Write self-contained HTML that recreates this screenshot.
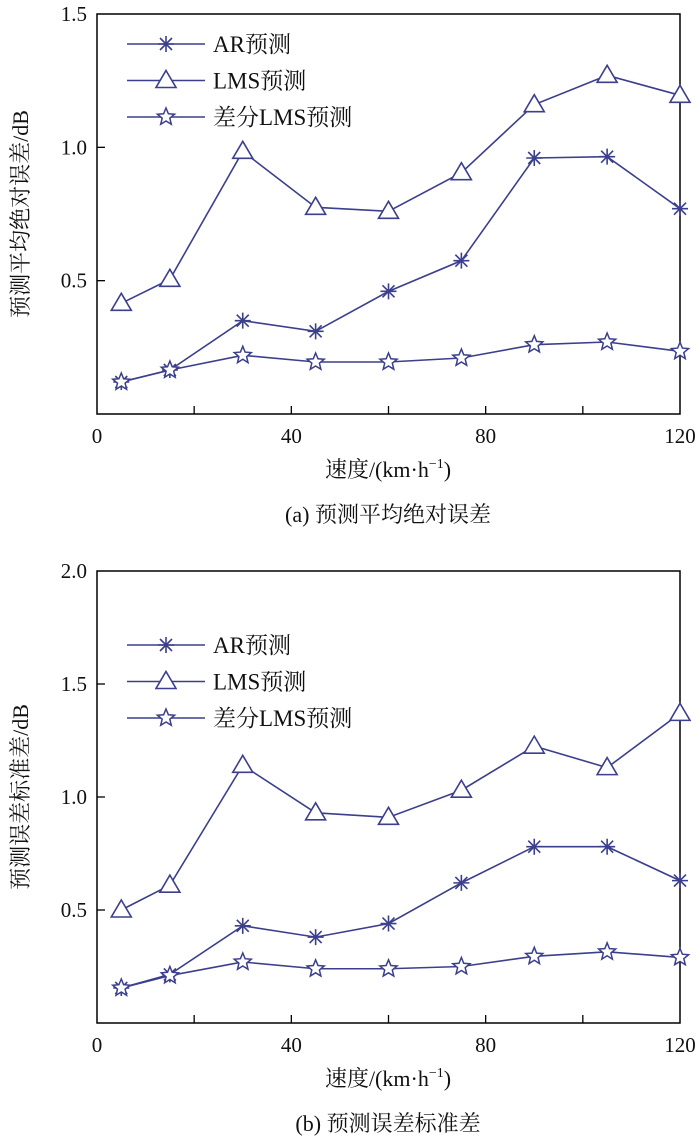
<!DOCTYPE html>
<html><head><meta charset="utf-8">
<style>
html,body{margin:0;padding:0;background:#fff;}
svg{display:block;font-family:"Liberation Serif","Noto Serif CJK SC",serif;}
</style></head>
<body>
<svg id="svg" width="700" height="1143" viewBox="0 0 700 1143"></svg>
<script>
const speeds = [5, 15, 30, 45, 60, 75, 90, 105, 120];
const maeAR = [0.12, 0.165, 0.35, 0.31, 0.46, 0.575, 0.96, 0.965, 0.77];
const maeLMS = [0.415, 0.505, 0.985, 0.775, 0.76, 0.905, 1.16, 1.27, 1.195];
const maeDiff = [0.12, 0.165, 0.22, 0.195, 0.195, 0.21, 0.26, 0.27, 0.235];
const sdAR = [0.155, 0.215, 0.43, 0.38, 0.44, 0.62, 0.78, 0.78, 0.63];
const sdLMS = [0.5, 0.61, 1.14, 0.93, 0.91, 1.03, 1.225, 1.13, 1.37];
const sdDiff = [0.155, 0.21, 0.27, 0.24, 0.24, 0.25, 0.295, 0.315, 0.29];
const xTicks = [0, 20, 40, 60, 80, 100, 120];
const xTickLabels = ["0", "", "40", "", "80", "", "120"];
const yTicksTop = [0.5, 1.0, 1.5];
const yTicksBottom = [0.5, 1.0, 1.5, 2.0];
const legendLabels = ["AR预测", "LMS预测", "差分LMS预测"];

const NS = "http://www.w3.org/2000/svg";
const svg = document.getElementById('svg');
const C = "#3b3f8c";
function mk(tag, attrs, parent, text){
  const e = document.createElementNS(NS, tag);
  for (const k in attrs) e.setAttribute(k, attrs[k]);
  if (text !== undefined) e.textContent = text;
  (parent || svg).appendChild(e);
  return e;
}
function marker(g, kind, x, y){
  if (kind === 'star'){
    mk('path', {d:`M${x-8} ${y}H${x+8}M${x} ${y-8}V${y+8}M${x-6} ${y-6}L${x+6} ${y+6}M${x-6} ${y+6}L${x+6} ${y-6}`, stroke:C, 'stroke-width':1.6, fill:'none'}, g);
  } else if (kind === 'tri'){
    mk('path', {d:`M${x} ${y-10}L${x+10} ${y+7}L${x-10} ${y+7}Z`, stroke:C, 'stroke-width':1.6, fill:'#fff'}, g);
  } else {
    let p = '';
    for (let i=0;i<10;i++){
      const r = i%2===0 ? 9 : 4;
      const a = -Math.PI/2 + i*Math.PI/5;
      p += (i?'L':'M') + (x + r*Math.cos(a)).toFixed(1) + ' ' + (y + r*Math.sin(a)).toFixed(1);
    }
    mk('path', {d:p+'Z', stroke:C, 'stroke-width':1.5, fill:'#fff'}, g);
  }
}
function chart(name, top, bottom, yMax, yTicks, series, yTitle, caption, legTop){
  const L = 97, R = 680;
  const g = mk('g', {});
  
  
  const sx = v => L + (v/120)*(R-L);
  const sy = v => bottom - (v/yMax)*(bottom-top);
  mk('rect', {x:L, y:top, width:R-L, height:bottom-top, fill:'none', stroke:'#000', 'stroke-width':1.5}, g);
  xTicks.forEach((t,i)=>{
    const x = sx(t);
    if (t>0 && t<120) mk('line', {x1:x, x2:x, y1:bottom, y2:bottom-8, stroke:'#000','stroke-width':1.3}, g);
    if (xTickLabels[i]) {
      const tx = mk('text', {x:x, y:bottom+29, 'text-anchor':'middle', 'font-size':21, fill:'#111'}, g, xTickLabels[i]);
      
      
    }
  });
  yTicks.forEach(t=>{
    const y = sy(t);
    if (t < yMax) mk('line', {x1:L, x2:L+8, y1:y, y2:y, stroke:'#000','stroke-width':1.3}, g);
    const tx = mk('text', {x:L-10, y:y+7, 'text-anchor':'end', 'font-size':21, fill:'#111'}, g, t.toFixed(1));
    
    
  });
  series.forEach(s=>{
    const sg = mk('g', {}, g);
    
    
    mk('polyline', {points: speeds.map((v,i)=>sx(v)+','+sy(s.data[i])).join(' '), fill:'none', stroke:C, 'stroke-width':1.6}, sg);
    speeds.forEach((v,i)=>marker(sg, s.kind, sx(v), sy(s.data[i])));
  });
  const lg = mk('g', {}, g);
  
  
  series.forEach((s,i)=>{
    const y = legTop + i*36.5;
    const eg = mk('g', {}, lg);
    
    
    mk('line', {x1:127, x2:205, y1:y, y2:y, stroke:C, 'stroke-width':1.6}, eg);
    marker(eg, s.kind, 166, y);
    mk('text', {x:213, y:y+8, 'font-size':23, fill:'#111'}, eg, legendLabels[i]);
  });
  const yt = mk('text', {x:0, y:0, 'font-size':22, 'text-anchor':'middle', fill:'#111', transform:`translate(28 ${(top+bottom)/2}) rotate(-90)`}, g, yTitle);
  
  
  const xt = mk('text', {x:388, y:bottom+63, 'font-size':22, 'text-anchor':'middle', fill:'#111'}, g);
  
  
  xt.appendChild(document.createTextNode('速度/(km·h'));
  mk('tspan', {'font-size':14, dy:-9}, xt, '−1');
  mk('tspan', {dy:9}, xt, ')');
  const cp = mk('text', {x:388, y:bottom+108, 'font-size':22, 'text-anchor':'middle', fill:'#111'}, g, caption);
  
  
}
chart('mae-chart', 14, 414, 1.5, yTicksTop, [
  {name:'series-ar', data:maeAR, kind:'star'},
  {name:'series-lms', data:maeLMS, kind:'tri'},
  {name:'series-diff-lms', data:maeDiff, kind:'pent'}
], '预测平均绝对误差/dB', '(a) 预测平均绝对误差', 44);
chart('std-chart', 571, 1023, 2.0, yTicksBottom, [
  {name:'series-ar', data:sdAR, kind:'star'},
  {name:'series-lms', data:sdLMS, kind:'tri'},
  {name:'series-diff-lms', data:sdDiff, kind:'pent'}
], '预测误差标准差/dB', '(b) 预测误差标准差', 645);
</script>
</body></html>
